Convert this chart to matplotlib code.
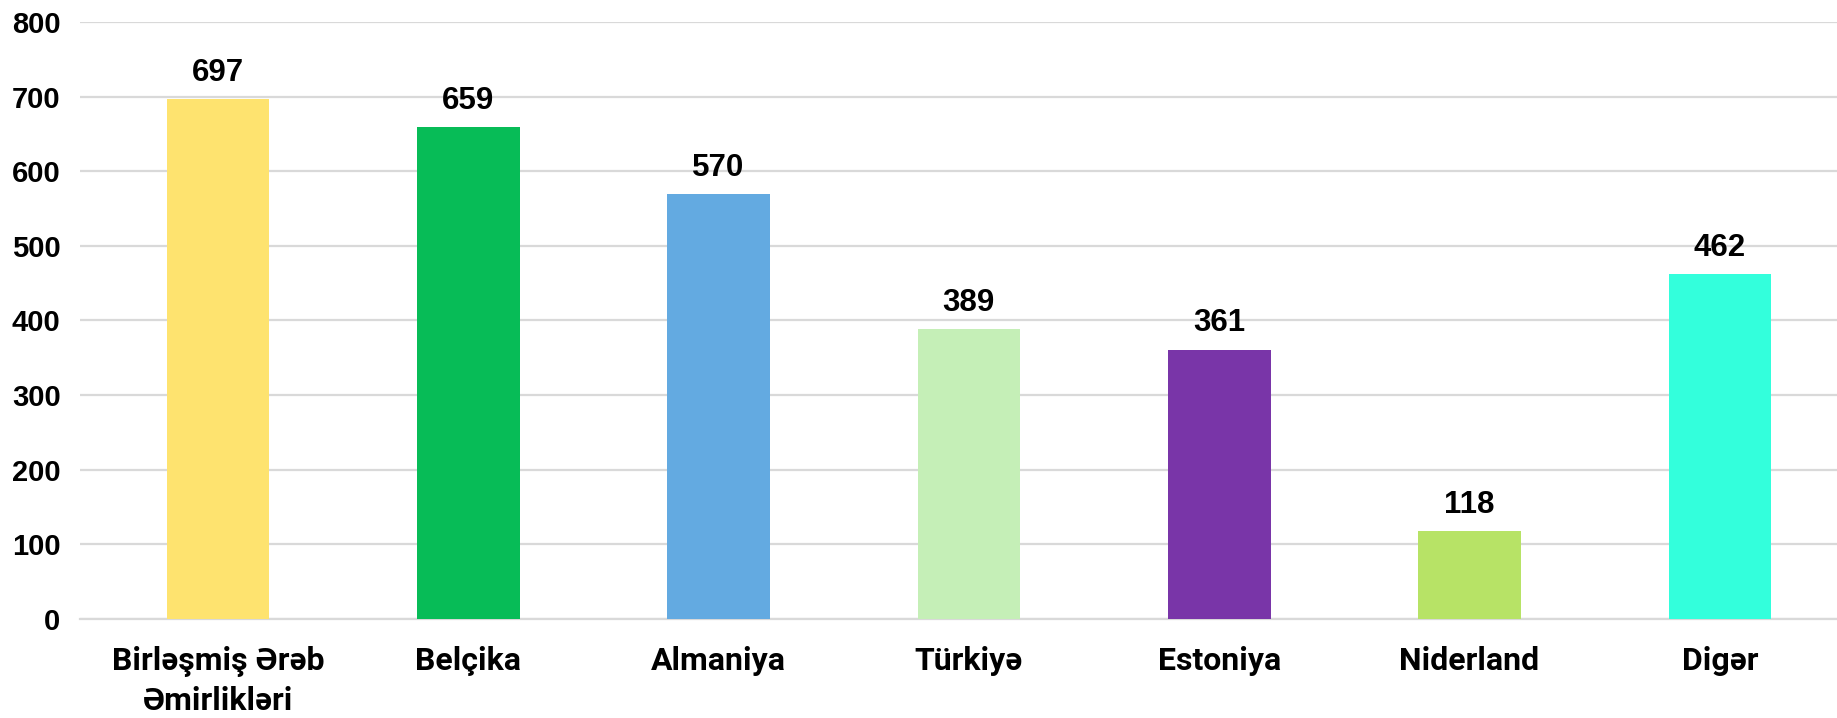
import matplotlib
matplotlib.use("Agg")
import matplotlib.pyplot as plt
import numpy as np

countries = [
    "Birləşmiş Ərəb\nƏmirlikləri",
    "Belçika",
    "Almaniya",
    "Türkiyə",
    "Estoniya",
    "Niderland",
    "Digər",
]
values = [697, 659, 570, 389, 361, 118, 462]
bar_colors = ["#FEE36F", "#07BC57", "#63AAE1", "#C5EFB7", "#7935A8", "#B7E366", "#33FFDC"]
y_ticks = [0, 100, 200, 300, 400, 500, 600, 700, 800]

fig = plt.figure(figsize=(18.37, 7.18), dpi=100)
ax = fig.add_axes([80 / 1837, 1 - 618.6 / 718, 1 - 80 / 1837, (618.6 - 22.3) / 718])

x = np.arange(len(countries))
bars = ax.bar(x, values, width=0.41, color=bar_colors, zorder=3)

for xi, v in zip(x, values):
    ax.annotate(
        f"{v}",
        (xi, v),
        xytext=(0, 8),
        textcoords="offset points",
        ha="center",
        va="bottom",
        fontsize=22.5,
        fontweight="bold",
        family="Liberation Sans",
    )

ax.set_xlim(-0.551, 6.468)
ax.set_ylim(0, 800)
ax.set_yticks(y_ticks)
ax.set_xticks(x)
ax.set_xticklabels(countries)
for lbl in ax.get_xticklabels():
    lbl.set_family(["Roboto", "DejaVu Sans"])
    lbl.set_fontweight("bold")
    lbl.set_fontsize(23)
    lbl.set_linespacing(1.35)
ax.tick_params(axis="x", length=0, pad=20)
ax.tick_params(axis="y", length=0, pad=14)
for lbl in ax.get_yticklabels():
    lbl.set_fontsize(21)
    lbl.set_fontweight("bold")
    lbl.set_family("Liberation Sans")

ax.grid(axis="y", color="#D9D9D9", linewidth=1.6, zorder=0)
for side in ["left", "right", "top"]:
    ax.spines[side].set_visible(False)
ax.spines["bottom"].set_color("#D9D9D9")
ax.spines["bottom"].set_linewidth(1.6)

fig.savefig("out.png", dpi=100)
